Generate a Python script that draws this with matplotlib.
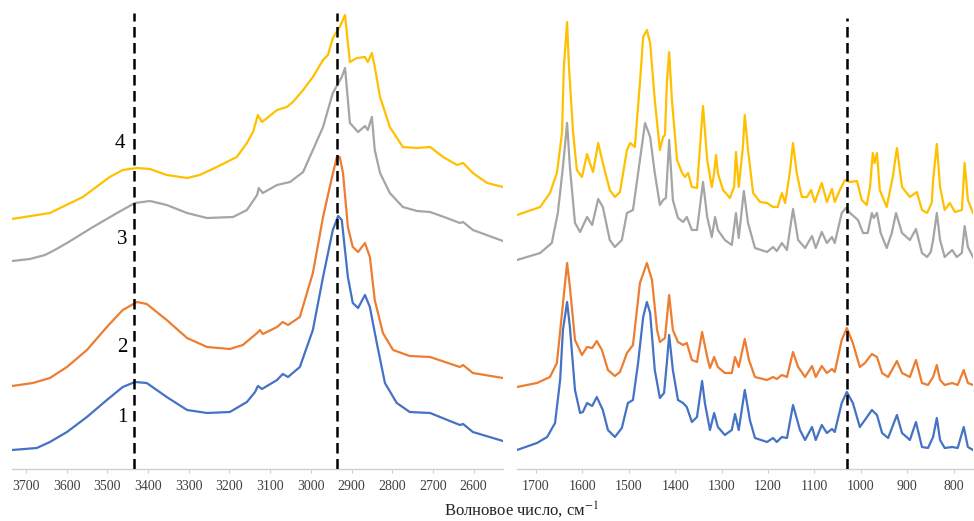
import matplotlib
matplotlib.use("Agg")
import matplotlib.pyplot as plt

plt.rcParams['font.family'] = ['Liberation Serif', 'DejaVu Serif']
plt.rcParams['mathtext.fontset'] = 'stix'

# ---- high wavenumber region (3750-2530 cm-1) ----
wn_hi_1 = [3734, 3673, 3641, 3599, 3550, 3501, 3462, 3432, 3403, 3354,
           3304, 3255, 3199, 3157, 3137, 3130, 3120, 3083, 3069, 3056,
           3027, 2995, 2970, 2946, 2933, 2924, 2909, 2897, 2884, 2867,
           2855, 2838, 2818, 2789, 2757, 2707, 2634, 2626, 2602, 2528]
hi_1 = [19, 21, 27, 37, 52, 69, 82, 87, 86, 72,
        59, 56, 57, 67, 77, 83, 80, 89, 95, 92,
        102, 139, 192, 239, 253, 249, 192, 166, 161, 174,
        162, 126, 86, 66, 57, 56, 44, 45, 37, 28]

wn_hi_2 = [3734, 3683, 3641, 3599, 3550, 3501, 3462, 3427, 3403, 3354,
           3304, 3255, 3199, 3167, 3132, 3125, 3118, 3083, 3069, 3056,
           3027, 2995, 2970, 2948, 2936, 2929, 2921, 2909, 2897, 2884,
           2867, 2855, 2843, 2823, 2798, 2757, 2707, 2634, 2626, 2602, 2528]
hi_2 = [83, 86, 91, 102, 119, 142, 159, 167, 165, 149,
        131, 122, 120, 124, 136, 139, 135, 142, 147, 144,
        152, 196, 252, 292, 312, 312, 296, 242, 222, 217,
        226, 212, 169, 136, 119, 113, 112, 102, 104, 96, 91]

wn_hi_3 = [3734, 3690, 3653, 3629, 3599, 3535, 3476, 3432, 3395, 3354,
           3304, 3255, 3191, 3157, 3132, 3128, 3118, 3083, 3051, 3019,
           2995, 2970, 2946, 2924, 2916, 2909, 2904, 2884, 2867, 2860,
           2850, 2843, 2830, 2806, 2774, 2739, 2707, 2666, 2634, 2626, 2602, 2528]
hi_3 = [208, 210, 214, 219, 226, 242, 256, 266, 268, 264,
        256, 251, 252, 259, 274, 281, 276, 284, 287, 297,
        319, 342, 376, 392, 401, 369, 346, 337, 343, 339,
        352, 319, 296, 276, 262, 258, 257, 251, 246, 247, 239, 228]

wn_hi_4 = [3734, 3641, 3560, 3494, 3462, 3427, 3395, 3354, 3304, 3273,
           3231, 3182, 3157, 3142, 3130, 3120, 3083, 3059, 3044, 3019,
           2995, 2970, 2958, 2946, 2929, 2916, 2909, 2904, 2887, 2867,
           2860, 2850, 2843, 2830, 2806, 2774, 2739, 2707, 2675, 2641,
           2626, 2602, 2567, 2528]
hi_4 = [250, 256, 272, 292, 299, 301, 300, 294, 291, 294,
        302, 312, 326, 337, 354, 347, 359, 362, 367, 379,
        392, 409, 414, 431, 442, 454, 426, 407, 411, 412,
        407, 416, 402, 372, 342, 322, 321, 322, 312, 304,
        306, 296, 286, 282]

# ---- fingerprint region (1740-760 cm-1) ----
wn_lo_1 = [1741, 1698, 1676, 1659, 1648, 1642, 1633, 1627, 1616, 1605,
           1599, 1590, 1579, 1569, 1556, 1545, 1530, 1515, 1502, 1491,
           1480, 1469, 1461, 1454, 1444, 1433, 1424, 1418, 1413, 1405,
           1394, 1383, 1375, 1364, 1353, 1342, 1336, 1325, 1316, 1308,
           1293, 1278, 1271, 1263, 1250, 1239, 1228, 1202, 1189, 1181,
           1170, 1159, 1146, 1131, 1120, 1105, 1097, 1084, 1073, 1062,
           1056, 1041, 1030, 1017, 1002, 991, 976, 965, 954, 941,
           922, 911, 894, 881, 868, 855, 844, 836, 829, 819,
           803, 791, 778, 769, 758]
lo_1 = [19, 26, 32, 46, 89, 139, 167, 142, 79, 56,
        57, 66, 63, 72, 59, 39, 32, 41, 66, 69,
        106, 152, 167, 156, 99, 71, 76, 106, 134, 99,
        69, 66, 62, 47, 52, 88, 66, 39, 56, 42,
        34, 39, 55, 39, 79, 49, 31, 27, 31, 27,
        32, 31, 64, 39, 29, 42, 29, 44, 36, 40,
        37, 66, 77, 66, 42, 49, 59, 54, 36, 31,
        54, 36, 29, 47, 22, 21, 32, 51, 29, 21,
        22, 21, 42, 22, 19]

wn_lo_2 = [1741, 1698, 1670, 1655, 1644, 1633, 1627, 1616, 1601, 1590,
           1579, 1569, 1558, 1545, 1530, 1519, 1504, 1491, 1476, 1461,
           1450, 1439, 1433, 1422, 1413, 1405, 1394, 1383, 1375, 1364,
           1353, 1342, 1331, 1325, 1316, 1308, 1293, 1278, 1271, 1263,
           1250, 1241, 1228, 1202, 1189, 1181, 1170, 1159, 1146, 1135,
           1120, 1105, 1097, 1084, 1073, 1062, 1056, 1041, 1030, 1017,
           1002, 991, 976, 965, 954, 941, 922, 911, 894, 881,
           868, 855, 844, 836, 829, 819, 803, 791, 778, 769, 758]
lo_2 = [82, 86, 92, 106, 156, 206, 182, 129, 114, 122,
        121, 128, 119, 99, 93, 97, 116, 124, 186, 206,
        189, 139, 127, 131, 174, 139, 127, 124, 126, 109,
        107, 137, 112, 101, 112, 102, 96, 96, 112, 102,
        130, 109, 92, 89, 92, 90, 94, 92, 117, 102,
        92, 103, 92, 103, 96, 100, 97, 129, 141, 126,
        102, 106, 115, 112, 96, 92, 108, 96, 92, 109,
        86, 84, 92, 104, 89, 84, 86, 84, 99, 86, 84]

wn_lo_3 = [1741, 1691, 1666, 1653, 1642, 1633, 1627, 1616, 1605, 1590,
           1579, 1566, 1556, 1541, 1530, 1515, 1504, 1491, 1476, 1465,
           1454, 1444, 1433, 1426, 1420, 1413, 1405, 1394, 1383, 1375,
           1364, 1353, 1340, 1331, 1321, 1314, 1308, 1293, 1278, 1269,
           1263, 1252, 1243, 1228, 1202, 1189, 1181, 1170, 1159, 1146,
           1135, 1120, 1105, 1097, 1084, 1073, 1062, 1056, 1041, 1032,
           1023, 1006, 995, 985, 976, 972, 965, 957, 944, 933,
           924, 911, 894, 881, 868, 857, 849, 844, 836, 829,
           819, 803, 793, 782, 776, 769, 758]
lo_3 = [209, 216, 226, 256, 302, 346, 302, 246, 237, 252,
        244, 270, 262, 229, 222, 229, 256, 259, 309, 346,
        332, 296, 264, 269, 271, 329, 269, 251, 247, 252,
        239, 239, 287, 252, 232, 252, 239, 229, 224, 256,
        231, 278, 246, 221, 217, 222, 218, 226, 219, 260,
        229, 221, 233, 221, 237, 226, 232, 226, 256, 261,
        256, 249, 236, 236, 256, 251, 256, 236, 221, 236,
        256, 236, 229, 240, 216, 212, 217, 229, 256, 229,
        212, 219, 212, 216, 243, 222, 212]

wn_lo_4 = [1741, 1691, 1670, 1655, 1644, 1640, 1633, 1629, 1620, 1612,
           1601, 1590, 1584, 1577, 1566, 1556, 1541, 1530, 1519, 1504,
           1497, 1487, 1476, 1469, 1461, 1454, 1444, 1433, 1426, 1422,
           1418, 1413, 1407, 1396, 1385, 1379, 1372, 1364, 1353, 1347,
           1340, 1331, 1321, 1316, 1312, 1308, 1297, 1282, 1273, 1269,
           1263, 1254, 1250, 1243, 1232, 1217, 1202, 1189, 1179, 1170,
           1163, 1153, 1146, 1138, 1127, 1116, 1107, 1099, 1084, 1073,
           1062, 1056, 1045, 1034, 1023, 1008, 998, 987, 980, 974,
           970, 965, 959, 944, 931, 922, 911, 894, 879, 868,
           857, 847, 844, 836, 829, 819, 808, 797, 782, 776,
           769, 758]
lo_4 = [254, 262, 276, 296, 336, 402, 447, 402, 336, 299,
        292, 315, 306, 297, 326, 306, 279, 272, 277, 319,
        326, 322, 386, 432, 439, 426, 369, 319, 332, 334,
        386, 417, 369, 309, 296, 292, 296, 282, 281, 319,
        363, 309, 282, 296, 314, 296, 279, 271, 282, 317,
        282, 322, 354, 319, 276, 267, 266, 262, 262, 276,
        266, 296, 326, 296, 272, 272, 279, 267, 286, 267,
        280, 267, 279, 289, 287, 288, 269, 264, 282, 316,
        306, 316, 279, 262, 292, 321, 282, 272, 277, 259,
        256, 266, 289, 325, 282, 259, 266, 257, 259, 306,
        269, 256]

colors = ['#4472C4', '#ED7D31', '#A5A5A5', '#FFC000']
hi_series = [(wn_hi_1, hi_1), (wn_hi_2, hi_2), (wn_hi_3, hi_3), (wn_hi_4, hi_4)]
lo_series = [(wn_lo_1, lo_1), (wn_lo_2, lo_2), (wn_lo_3, lo_3), (wn_lo_4, lo_4)]

hi_ticks = [3700, 3600, 3500, 3400, 3300, 3200, 3100, 3000, 2900, 2800, 2700, 2600]
lo_ticks = [1700, 1600, 1500, 1400, 1300, 1200, 1100, 1000, 900, 800]

marks_hi = [3435, 2936]
marks_lo = [1030]

curve_labels = ['1', '2', '3', '4']
label_x = [3464, 3464, 3464, 3469]
label_y = [51, 122, 229, 326]

fig = plt.figure(figsize=(9.74, 5.21), dpi=100)
ax1 = fig.add_axes([12 / 974, 52 / 521, 491 / 974, 456 / 521])
ax2 = fig.add_axes([517 / 974, 52 / 521, 456 / 974, 456 / 521])

for ax, series, ticks, lim in [(ax1, hi_series, hi_ticks, (3734, 2528)),
                               (ax2, lo_series, lo_ticks, (1741, 758))]:
    for (x, y), c in zip(series, colors):
        ax.plot(x, y, color=c, lw=1.6, solid_joinstyle='round')
    ax.set_xlim(*lim)
    ax.set_ylim(0, 456)
    ax.set_xticks(ticks)
    ax.set_yticks([])
    for s in ['left', 'right', 'top']:
        ax.spines[s].set_visible(False)
    ax.spines['bottom'].set_color('#d0d0d0')
    ax.spines['bottom'].set_linewidth(1.0)
    ax.tick_params(axis='x', direction='out', length=3, width=0.8,
                   color='#d0d0d0', labelsize=10, labelcolor='#404040', pad=5)

for m in marks_hi:
    ax1.axvline(m, color='black', lw=1.8, ls=(0, (4.2, 2.2)), zorder=5)
for m in marks_lo:
    ax2.axvline(m, color='black', lw=1.8, ls=(0, (4.2, 2.2)), ymax=0.99, zorder=5)

for t, x, y in zip(curve_labels, label_x, label_y):
    ax1.text(x, y, t, fontsize=15, ha='center', va='center', color='black')

fig.text(521 / 974, 11 / 521, 'Волновое число, см$^{-1}$', fontsize=12,
         ha='center', va='center', color='#222222')

fig.savefig('out.png', dpi=100)
